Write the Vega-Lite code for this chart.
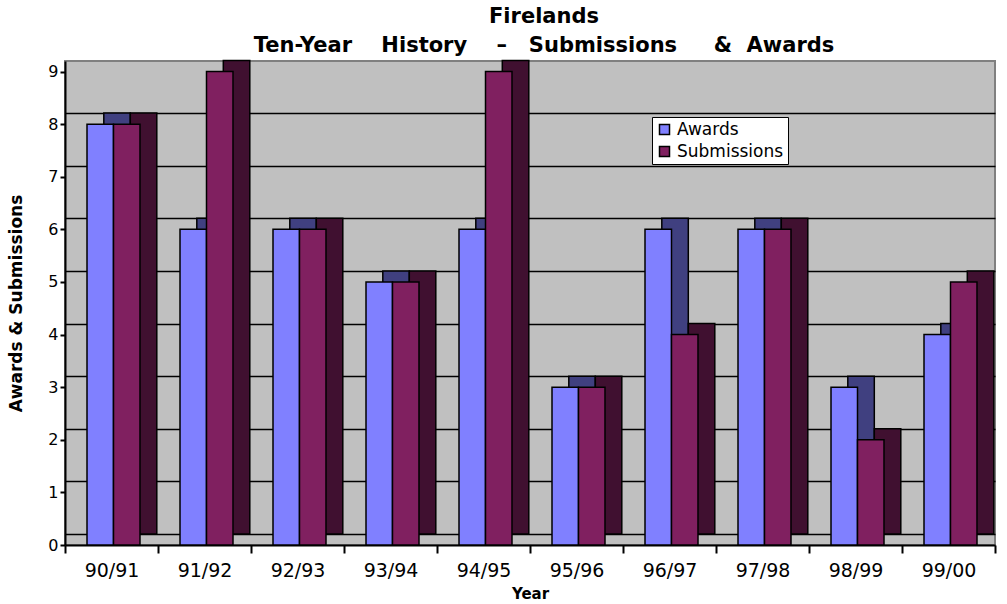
{
  "$schema": "https://vega.github.io/schema/vega-lite/v6.json",
  "width": 930,
  "height": 484,
  "autosize": "none",
  "padding": {"left": 65, "top": 61, "right": 12, "bottom": 59},
  "background": "white",
  "title": {
    "text": ["Firelands", "Ten-Year\u00a0\u00a0\u00a0\u00a0History\u00a0\u00a0\u00a0\u00a0–\u00a0\u00a0\u00a0Submissions\u00a0\u00a0\u00a0\u00a0\u00a0&\u00a0\u00a0Awards"],
    "font": "DejaVu Sans",
    "fontSize": 21,
    "fontWeight": "bold",
    "lineHeight": 29,
    "color": "black",
    "anchor": "middle",
    "dx": 14,
    "offset": 4
  },
  "config": {
    "view": {"fill": "#C0C0C0", "stroke": "#808080", "strokeWidth": 2},
    "font": "DejaVu Sans"
  },
  "data": {
    "values": [
      {"year": "90/91", "series": "Awards", "value": 8},
      {"year": "90/91", "series": "Submissions", "value": 8},
      {"year": "91/92", "series": "Awards", "value": 6},
      {"year": "91/92", "series": "Submissions", "value": 9},
      {"year": "92/93", "series": "Awards", "value": 6},
      {"year": "92/93", "series": "Submissions", "value": 6},
      {"year": "93/94", "series": "Awards", "value": 5},
      {"year": "93/94", "series": "Submissions", "value": 5},
      {"year": "94/95", "series": "Awards", "value": 6},
      {"year": "94/95", "series": "Submissions", "value": 9},
      {"year": "95/96", "series": "Awards", "value": 3},
      {"year": "95/96", "series": "Submissions", "value": 3},
      {"year": "96/97", "series": "Awards", "value": 6},
      {"year": "96/97", "series": "Submissions", "value": 4},
      {"year": "97/98", "series": "Awards", "value": 6},
      {"year": "97/98", "series": "Submissions", "value": 6},
      {"year": "98/99", "series": "Awards", "value": 3},
      {"year": "98/99", "series": "Submissions", "value": 2},
      {"year": "99/00", "series": "Awards", "value": 4},
      {"year": "99/00", "series": "Submissions", "value": 5}
    ]
  },
  "encoding": {
    "x": {
      "field": "year",
      "type": "nominal",
      "sort": null,
      "scale": {"paddingInner": 0, "paddingOuter": 0},
      "axis": {
        "title": "Year",
        "titleFont": "DejaVu Sans",
        "titleFontSize": 15,
        "titleFontWeight": "bold",
        "titlePadding": 6,
        "labelAngle": 0,
        "labelFontSize": 19,
        "labelColor": "black",
        "labelPadding": 8,
        "tickSize": 8,
        "tickColor": "black",
        "tickWidth": 2,
        "tickBand": "extent",
        "domainColor": "black",
        "domainWidth": 2,
        "grid": false
      }
    }
  },
  "layer": [
    {
      "mark": {"type": "bar", "stroke": "black", "strokeWidth": 1.5},
      "encoding": {
        "y": {
          "field": "value",
          "type": "quantitative",
          "scale": {"domain": [-0.21, 8.99], "nice": false, "zero": false},
          "axis": {
            "orient": "right",
            "title": null,
            "values": [0, 1, 2, 3, 4, 5, 6, 7, 8, 9],
            "labels": false,
            "ticks": false,
            "domain": false,
            "grid": true,
            "gridColor": "black",
            "gridWidth": 1.5
          }
        },
        "xOffset": {
          "field": "series",
          "type": "nominal",
          "scale": {"paddingInner": 0, "paddingOuter": 0.755, "align": 0.97}
        },
        "color": {
          "field": "series",
          "type": "nominal",
          "scale": {"domain": ["Awards", "Submissions"], "range": ["#404080", "#401030"]},
          "legend": null
        }
      }
    },
    {
      "mark": {"type": "bar", "stroke": "black", "strokeWidth": 1.5},
      "encoding": {
        "y": {
          "field": "value",
          "type": "quantitative",
          "scale": {"domain": [0, 9.2], "nice": false},
          "axis": {
            "orient": "left",
            "title": "Awards & Submissions",
            "titleFont": "DejaVu Sans",
            "titleFontSize": 17,
            "titleFontWeight": "bold",
            "titlePadding": 22,
            "values": [0, 1, 2, 3, 4, 5, 6, 7, 8, 9],
            "labelOverlap": false,
            "labelFontSize": 16,
            "labelColor": "black",
            "tickSize": 5,
            "tickColor": "black",
            "tickWidth": 2,
            "domainColor": "black",
            "domainWidth": 2,
            "grid": false
          }
        },
        "xOffset": {
          "field": "series",
          "type": "nominal",
          "scale": {"paddingInner": 0, "paddingOuter": 0.755, "align": 0.55}
        },
        "color": {
          "field": "series",
          "type": "nominal",
          "scale": {"domain": ["Awards", "Submissions"], "range": ["#8080FF", "#802060"]},
          "legend": {
            "title": null,
            "orient": "none",
            "legendX": 587,
            "legendY": 56,
            "fillColor": "white",
            "strokeColor": "black",
            "padding": 4,
            "symbolType": "square",
            "symbolSize": 100,
            "symbolStrokeColor": "black",
            "symbolStrokeWidth": 1.5,
            "labelFontSize": 17,
            "labelColor": "black",
            "rowPadding": 4
          }
        }
      }
    }
  ],
  "resolve": {"scale": {"color": "independent", "xOffset": "independent", "y": "independent"}}
}
